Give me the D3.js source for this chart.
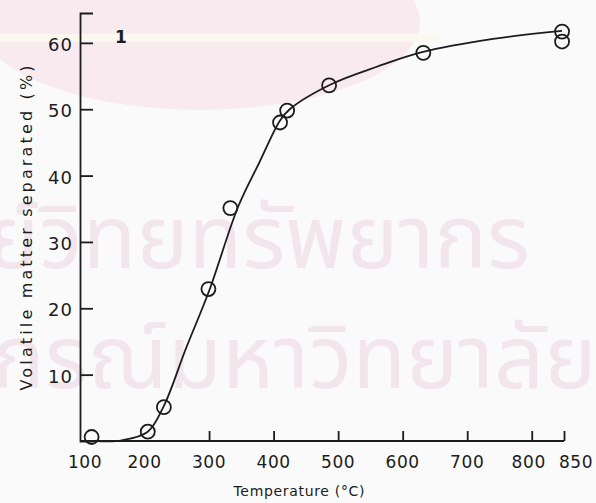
<!DOCTYPE html><meta charset="utf-8">
<html>
<head>
<title>Volatile matter separated vs temperature</title>
<script src="https://cdn.jsdelivr.net/npm/d3@7/dist/d3.min.js"></script>
<style>
  body { margin: 0; background: #fafafa; }
  svg { display: block; }
  text { font-family: "DejaVu Sans", sans-serif; fill: #1c1c1c; }
</style>
</head>
<body>
<svg id="viz"></svg>
<script>
// measured points (open circles)
var pointTemp = [118, 205, 230, 299, 333, 410, 421, 486, 632, 847, 847];
var pointVol  = [0.6, 1.4, 5.1, 22.9, 35.1, 48.0, 49.8, 53.6, 58.5, 61.7, 60.2];

// drawn curve through the points
var curveTemp = [125, 165, 205, 230, 264, 300, 345, 378, 410, 425, 490, 560, 630, 740, 847];
var curveVol  = [0.0, 0.1, 1.4, 5.3, 13.9, 22.6, 35.3, 42.0, 48.3, 50.0, 53.8, 56.4, 58.6, 60.6, 61.8];

var xTicks = [100, 200, 300, 400, 500, 600, 700, 800, 850];
var xTickMarks = [300, 400, 500, 600, 700, 800, 850];
var yTicks = [10, 20, 30, 40, 50, 60];

var width = 596, height = 503;
var ink = "#1c1c1c";

var svg = d3.select("#viz").attr("width", width).attr("height", height);

// faint scanned watermark
var wm = svg.append("g").attr("class", "watermark");
wm.append("ellipse")
    .attr("cx", 200).attr("cy", 22).attr("rx", 220).attr("ry", 88)
    .attr("fill", "#f9eaf0");
wm.append("rect")
    .attr("x", 0).attr("y", 34).attr("width", 440).attr("height", 8)
    .attr("fill", "#fbf8ef");
wm.append("text")
    .attr("x", 530).attr("y", 268)
    .attr("text-anchor", "end")
    .style("font-family", "'Noto Sans Thai', 'Loma', 'Garuda', 'Norasi', sans-serif")
    .style("font-size", "88px")
    .style("fill", "#f2e5ec")
    .text("ศูนย์วิทยทรัพยากร");
wm.append("text")
    .attr("x", -8).attr("y", 388)
    .style("font-family", "'Noto Sans Thai', 'Loma', 'Garuda', 'Norasi', sans-serif")
    .style("font-size", "88px")
    .style("fill", "#f2e5ec")
    .text("กรณ์มหาวิทยาลัย");

var x = d3.scaleLinear().domain([100, 850]).range([80, 564]);
var y = d3.scaleLinear().domain([0, 64.5]).range([441, 13]);

// x axis: line, inward ticks, labels below
var xAxis = svg.append("g")
    .attr("transform", "translate(0," + y(0) + ")")
    .call(d3.axisBottom(x).tickValues(xTickMarks).tickSize(-10).tickFormat(""));
xAxis.select(".domain").attr("d", "M" + x(100) + ",0H" + x(850));
xAxis.selectAll("line, path").attr("stroke", ink).attr("stroke-width", 1.8);

svg.append("g").selectAll("text")
    .data(xTicks)
    .enter()
    .append("text")
    .attr("x", function(d) {
        if (d == 100) return x(d) + 5;
        if (d == 800) return x(d) - 3;
        if (d == 850) return x(d) + 12;
        return x(d);
    })
    .attr("y", 468)
    .attr("text-anchor", "middle")
    .style("font-size", "17px")
    .style("letter-spacing", "0.6px")
    .text(function(d) { return d; });

// y axis
var yAxis = svg.append("g")
    .attr("transform", "translate(" + x(100) + ",0)")
    .call(d3.axisLeft(y).tickValues(yTicks).tickSize(-13).tickFormat(""));
yAxis.selectAll("line, path").attr("stroke", ink).attr("stroke-width", 1.8);

svg.append("g").selectAll("text")
    .data(yTicks)
    .enter()
    .append("text")
    .attr("x", 73)
    .attr("y", function(d) { return y(d); })
    .attr("dy", "0.45em")
    .attr("text-anchor", "end")
    .style("font-size", "18px")
    .style("letter-spacing", "1px")
    .text(function(d) { return d; });

// axis titles
svg.append("text")
    .attr("x", 299).attr("y", 496)
    .attr("text-anchor", "middle")
    .attr("textLength", 131).attr("lengthAdjust", "spacing")
    .style("font-size", "14px")
    .text("Temperature (°C)");

svg.append("text")
    .attr("transform", "translate(32,228) rotate(-90)")
    .attr("text-anchor", "middle")
    .attr("textLength", 325).attr("lengthAdjust", "spacing")
    .style("font-size", "16px")
    .text("Volatile matter separated (%)");

// panel label
svg.append("text")
    .attr("x", 121).attr("y", 43)
    .attr("text-anchor", "middle")
    .style("font-size", "17px")
    .style("font-weight", "bold")
    .text("1");

// curve
var curve = d3.zip(curveTemp, curveVol);
var line = d3.line()
    .x(function(d) { return x(d[0]); })
    .y(function(d) { return y(d[1]); })
    .curve(d3.curveCatmullRom.alpha(0.5));

svg.append("path")
    .datum(curve)
    .attr("d", line)
    .attr("fill", "none")
    .attr("stroke", ink)
    .attr("stroke-width", 1.8);

// open circles
svg.append("g").selectAll("circle")
    .data(d3.zip(pointTemp, pointVol))
    .enter()
    .append("circle")
    .attr("cx", function(d) { return x(d[0]); })
    .attr("cy", function(d) { return y(d[1]); })
    .attr("r", 7)
    .attr("fill", "none")
    .attr("stroke", ink)
    .attr("stroke-width", 1.8);
</script>
</body>
</html>
